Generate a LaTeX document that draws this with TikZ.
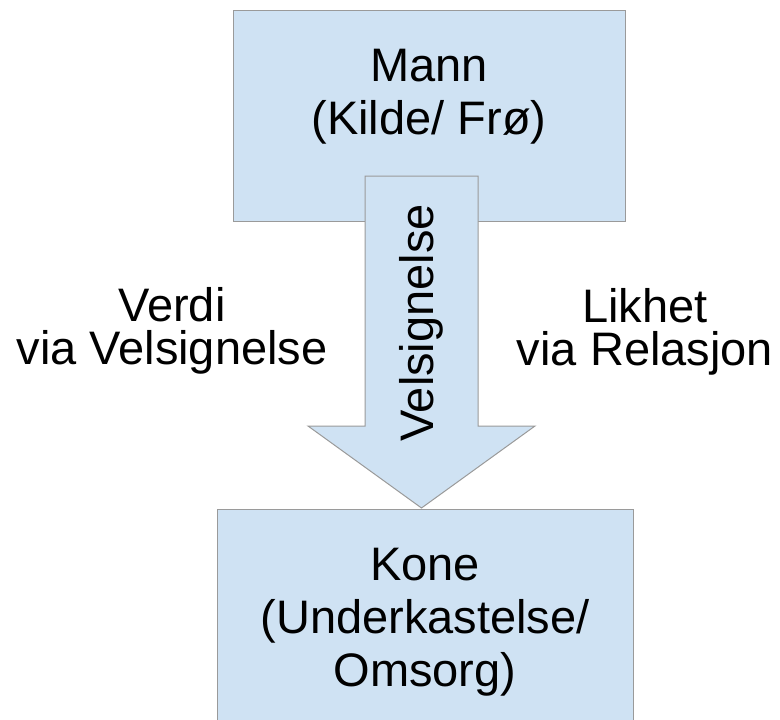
\documentclass[tikz,border=0pt]{standalone}
\usepackage{fontspec}
\setmainfont{Liberation Sans}
\usetikzlibrary{positioning, calc}
\definecolor{boxblue}{HTML}{CFE2F3}
\definecolor{boxline}{HTML}{9A9A9A}

\begin{document}
\begin{tikzpicture}[x=1pt, y=-1pt, line width=1pt,
    box/.style={draw=boxline, fill=boxblue, inner sep=0pt, anchor=north west},
    big/.style={font=\fontsize{47}{53}\selectfont, align=center, inner sep=0pt},
    side/.style={font=\fontsize{47}{43}\selectfont, align=center, inner sep=0pt}]
  \clip (0,0) rectangle (780,720);
  \node[box, minimum width=392pt, minimum height=211pt] (mann) at (233,10) {};
  \node[box, minimum width=416pt, minimum height=240pt] (kone) at (217,509) {};

  % blessing arrow
  \coordinate (tip) at (421.5,508);
  \draw[draw=boxline, fill=boxblue] (365,176) -- (478,176) -- (478,426) -- (535,426)
    -- (tip) -- (308,426) -- (365,426) -- cycle;

  \node[big, anchor=base] (manntxt) at (429,134) {Mann\\(Kilde/ Frø)};
  \node[big, anchor=base] (konetxt) at (425,686) {Kone\\(Underkastelse/\\Omsorg)};
  \node[side, anchor=base] (verdi) at (172,364) {Verdi\\via Velsignelse};
  \node[side, anchor=base] (likhet) at (645,365) {Likhet\\via Relasjon};
  \node[font=\fontsize{47}{53}\selectfont, inner sep=0pt, rotate=90, anchor=base] (velsign) at (433,323) {Velsignelse};
\end{tikzpicture}
\end{document}
